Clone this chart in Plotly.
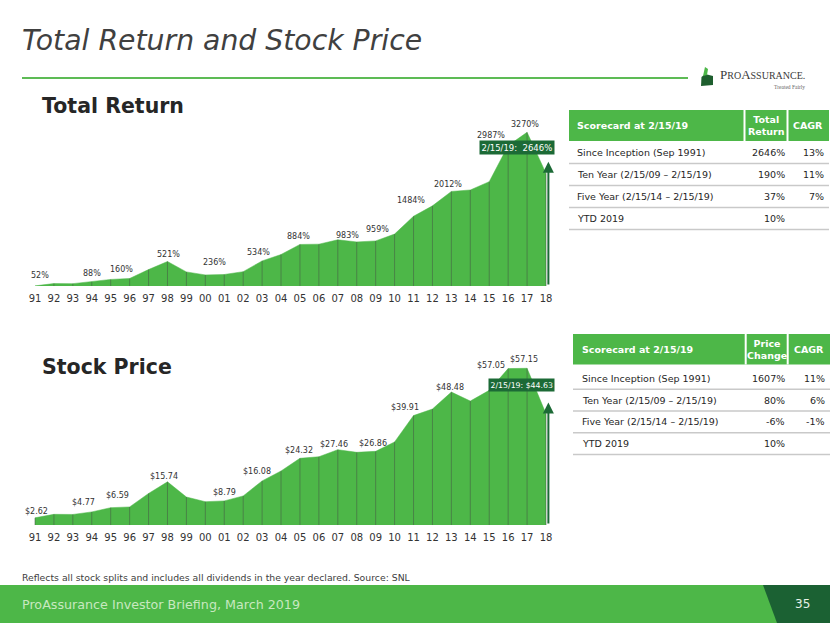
import plotly.graph_objects as go

# ---------------- data ----------------
years = list(range(1991, 2019))
tick_labels = ["91", "92", "93", "94", "95", "96", "97", "98", "99", "00",
               "01", "02", "03", "04", "05", "06", "07", "08", "09", "10",
               "11", "12", "13", "14", "15", "16", "17", "18"]
total_return = [3, 52, 50, 88, 140, 160, 350, 521, 300, 236, 245, 305, 534, 670,
                884, 890, 983, 938, 959, 1105, 1484, 1705, 2012, 2043, 2220, 2987,
                3270, 2396]
stock_price = [2.62, 3.89, 3.85, 4.77, 6.32, 6.59, 11.5, 15.74, 10.2, 8.5, 8.79,
               10.6, 16.08, 19.7, 24.32, 24.9, 27.46, 26.5, 26.86, 30.3, 39.91,
               42.3, 48.48, 45.2, 49.1, 57.05, 57.15, 40.53]
tr_label_years = [1992, 1994, 1996, 1998, 2000, 2003, 2005, 2007, 2009, 2011, 2013, 2016, 2017]
sp_label_years = [1991, 1994, 1996, 1998, 2001, 2003, 2005, 2007, 2009, 2011, 2013, 2016, 2017]
asof_text = "2/15/19:"
asof_year = 2018 + 46 / 365
asof_total_return = 2646
asof_price = 44.63

scorecard_title = "Scorecard at 2/15/19"
periods = ["Since Inception (Sep 1991)", "Ten Year (2/15/09 \u2013 2/15/19)",
           "Five Year (2/15/14 \u2013 2/15/19)", "YTD 2019"]
tr_total = ["2646%", "190%", "37%", "10%"]
tr_cagr = ["13%", "11%", "7%", ""]
px_change = ["1607%", "80%", "-6%", "10%"]
px_cagr = ["11%", "6%", "-1%", ""]

# ---------------- styles ----------------
W, H = 830, 623
GREEN = "#4DB748"
DARK = "#1C6A36"
FOOT_DARK = "#1B6133"
TXT = "#333333"
FONT = "DejaVu Sans, Verdana, sans-serif"

# label offsets in pixels (style only): (dx, lift)
tr_label_shift = [(-14, 8), (0, 8), (-8, 9), (1, 7), (9, 12), (-4, 8), (-1, 8),
                  (10, 4), (2, 11), (-3, 16), (-3, 7), (-17, 10), (-2, 8)]
sp_label_shift = [(1, 6), (-8, 9), (-12, 11), (-3, 5), (0, 8), (-5, 9), (-1, 8),
                  (-4, 5), (-3, 8), (-9, 8), (-1, 5), (-17, 3), (-3, 9)]


def P(x):
    return x / W


def Q(y):
    return 1 - y / H


X0, STEP = 35.0, 511.0 / 27


def yr_at(px):
    return 1991 + (px - X0) / STEP


fig = go.Figure()
ann = []
shapes = []


def add_chart(vals, label_years, label_fmt, shifts, xa, ya):
    drop_x, drop_y = [], []
    for yv, v in zip(years, vals):
        drop_x += [yv, yv, None]
        drop_y += [0, v, None]
    fig.add_trace(go.Scatter(x=years, y=vals, mode="lines", fill="tozeroy",
                             fillcolor=GREEN, line=dict(color=GREEN, width=0.5),
                             xaxis=xa, yaxis=ya, hoverinfo="skip"))
    fig.add_trace(go.Scatter(x=drop_x, y=drop_y, mode="lines",
                             line=dict(color="rgba(70,90,70,0.55)", width=1),
                             xaxis=xa, yaxis=ya, hoverinfo="skip"))
    for y, (dx, dy) in zip(label_years, shifts):
        v = vals[years.index(y)]
        ann.append(dict(x=y, y=v, xref=xa, yref=ya, text=label_fmt(v), showarrow=False,
                        xanchor="center", yanchor="middle", xshift=dx, yshift=dy,
                        font=dict(family=FONT, size=8, color=TXT)))


add_chart(total_return, tr_label_years, lambda v: f"{v}%", tr_label_shift, "x", "y")
add_chart(stock_price, sp_label_years, lambda v: f"${v:.2f}", sp_label_shift, "x2", "y2")

xcommon = dict(domain=[P(26), P(562)], range=[yr_at(26), yr_at(562)],
               tickmode="array", tickvals=years, ticktext=tick_labels,
               showgrid=False, zeroline=False, showline=False, ticks="",
               ticklabelstandoff=5,
               tickfont=dict(family=FONT, size=10, color=TXT), fixedrange=True)

fig.update_layout(
    width=W, height=H, margin=dict(l=0, r=0, t=0, b=0),
    paper_bgcolor="white", plot_bgcolor="rgba(0,0,0,0)", showlegend=False,
    xaxis=dict(anchor="y", **xcommon),
    yaxis=dict(domain=[Q(286), Q(118)], range=[0, (286 - 118) / 0.0470],
               visible=False, fixedrange=True),
    xaxis2=dict(anchor="y2", **xcommon),
    yaxis2=dict(domain=[Q(525), Q(355)], range=[0, (525 - 355) / 2.742],
                visible=False, fixedrange=True),
)

# as-of arrows and boxes
for xa, ya, val, txt, fs, ys in [
        ("x", "y", asof_total_return, f"{asof_text}\u00a0\u00a0{asof_total_return}%", 8.5, 7),
        ("x2", "y2", asof_price, f"{asof_text} ${asof_price:.2f}", 7.8, 11)]:
    ann.append(dict(x=asof_year, y=val, ax=asof_year, ay=0, xref=xa, yref=ya,
                    axref=xa, ayref=ya, text="", showarrow=True, arrowhead=2,
                    arrowsize=1.1, arrowwidth=2, arrowcolor=DARK))
    ann.append(dict(x=asof_year, y=val, xref=xa, yref=ya, text=txt, showarrow=False,
                    xanchor="right", yanchor="bottom", xshift=7, yshift=ys,
                    bgcolor=DARK, borderpad=1.5,
                    font=dict(family=FONT, size=fs, color="white")))

# title, rule, headings
ann.append(dict(x=P(20), y=Q(41), xref="paper", yref="paper", xanchor="left",
                yanchor="middle", showarrow=False,
                text="<i>Total Return and Stock Price</i>",
                font=dict(family=FONT, size=28.3, color="#404040")))
shapes.append(dict(type="line", xref="paper", yref="paper", x0=P(22), x1=P(688),
                   y0=Q(78), y1=Q(78), line=dict(color="#5DBB55", width=2)))
for text, yc in [("Total Return", 106), ("Stock Price", 367)]:
    ann.append(dict(x=P(40), y=Q(yc), xref="paper", yref="paper", xanchor="left",
                    yanchor="middle", showarrow=False, text=f"<b>{text}</b>",
                    font=dict(family=FONT, size=20.5, color="#262626")))

# logo
shapes.append(dict(type="path", xref="paper", yref="paper", fillcolor="#1E5E2E",
                   line=dict(width=0),
                   path="M {} {} L {} {} L {} {} L {} {} L {} {} L {} {} Z".format(
                       P(701), Q(86), P(701.5), Q(77), P(705), Q(74), P(713), Q(76),
                       P(713), Q(85), P(701), Q(86))))
shapes.append(dict(type="path", xref="paper", yref="paper", fillcolor="#4DB748",
                   line=dict(width=0),
                   path="M {} {} L {} {} L {} {} L {} {} Z".format(
                       P(703), Q(76), P(705), Q(67), P(708), Q(69), P(707), Q(75))))
ann.append(dict(x=P(718), y=Q(74), xref="paper", yref="paper", xanchor="left",
                yanchor="middle", showarrow=False,
                text="P<span style='font-size:10px'>RO</span>A<span style='font-size:10px'>SSURANCE.</span>",
                font=dict(family="Liberation Serif, serif", size=13, color="#3a3a3a")))
ann.append(dict(x=P(807), y=Q(87), xref="paper", yref="paper", xanchor="right",
                yanchor="middle", showarrow=False, text="Treated Fairly",
                font=dict(family="Liberation Serif, serif", size=5.5, color="#666666")))


# tables
def table(left, right, top, bot, sep1, sep2, head2, col2, col3, row0, step, pad):
    shapes.append(dict(type="rect", xref="paper", yref="paper", x0=P(left), x1=P(right),
                       y0=Q(bot), y1=Q(top), fillcolor=GREEN, line=dict(width=0)))
    for s in (sep1, sep2):
        shapes.append(dict(type="line", xref="paper", yref="paper", x0=P(s), x1=P(s),
                           y0=Q(bot), y1=Q(top), line=dict(color="white", width=2)))
    ym = (top + bot) / 2
    hf = dict(family=FONT, size=9.5, color="white")
    ann.append(dict(x=P(left + pad), y=Q(ym), xref="paper", yref="paper", xanchor="left",
                    yanchor="middle", showarrow=False, text=f"<b>{scorecard_title}</b>", font=hf))
    ann.append(dict(x=P((sep1 + sep2) / 2), y=Q(ym), xref="paper", yref="paper",
                    xanchor="center", yanchor="middle", showarrow=False,
                    text=f"<b>{head2}</b>", font=hf))
    ann.append(dict(x=P((sep2 + right) / 2), y=Q(ym), xref="paper", yref="paper",
                    xanchor="center", yanchor="middle", showarrow=False,
                    text="<b>CAGR</b>", font=hf))
    rf = dict(family=FONT, size=9.5, color="#262626")
    for i, (p, a, b) in enumerate(zip(periods, col2, col3)):
        yc = row0 + i * step
        ann.append(dict(x=P(left + pad), y=Q(yc), xref="paper", yref="paper", xanchor="left",
                        yanchor="middle", showarrow=False, text=p, font=rf))
        ann.append(dict(x=P(sep2 - 1), y=Q(yc), xref="paper", yref="paper", xanchor="right",
                        yanchor="middle", showarrow=False, text=a, font=rf))
        if b:
            ann.append(dict(x=P(right - 3), y=Q(yc), xref="paper", yref="paper",
                            xanchor="right", yanchor="middle", showarrow=False,
                            text=b, font=rf))
        yl = yc + step / 2
        shapes.append(dict(type="line", xref="paper", yref="paper", x0=P(left), x1=P(right),
                           y0=Q(yl), y1=Q(yl), line=dict(color="#C9C9C9", width=1.5)))


table(569, 829, 110, 141, 744.5, 787.5, "Total<br>Return", tr_total, tr_cagr, 152.5, 22, 6)
table(573, 830, 334, 364.5, 745.7, 787.7, "Price<br>Change", px_change, px_cagr, 378.3, 21.8, 7)

# footnote and footer
ann.append(dict(x=P(20), y=Q(577), xref="paper", yref="paper", xanchor="left",
                yanchor="middle", showarrow=False,
                text="Reflects all stock splits and includes all dividends in the year declared. Source: SNL",
                font=dict(family=FONT, size=9.3, color="#404040")))
shapes.append(dict(type="rect", xref="paper", yref="paper", x0=0, x1=1, y0=0, y1=Q(585),
                   fillcolor=GREEN, line=dict(width=0)))
shapes.append(dict(type="path", xref="paper", yref="paper", fillcolor=FOOT_DARK,
                   line=dict(width=0),
                   path="M {} {} L {} {} L {} {} L {} {} Z".format(
                       P(763), Q(585), P(830), Q(585), P(830), Q(623), P(777), Q(623))))
ann.append(dict(x=P(20), y=Q(604), xref="paper", yref="paper", xanchor="left",
                yanchor="middle", showarrow=False,
                text="ProAssurance Investor Briefing, March 2019",
                font=dict(family=FONT, size=12.7, color="#C8E8C0")))
ann.append(dict(x=P(802), y=Q(604), xref="paper", yref="paper", xanchor="center",
                yanchor="middle", showarrow=False, text="35",
                font=dict(family=FONT, size=12, color="#E8F2E8")))

fig.update_layout(annotations=ann, shapes=shapes)
fig.write_html("out.html", config={"displayModeBar": False})
